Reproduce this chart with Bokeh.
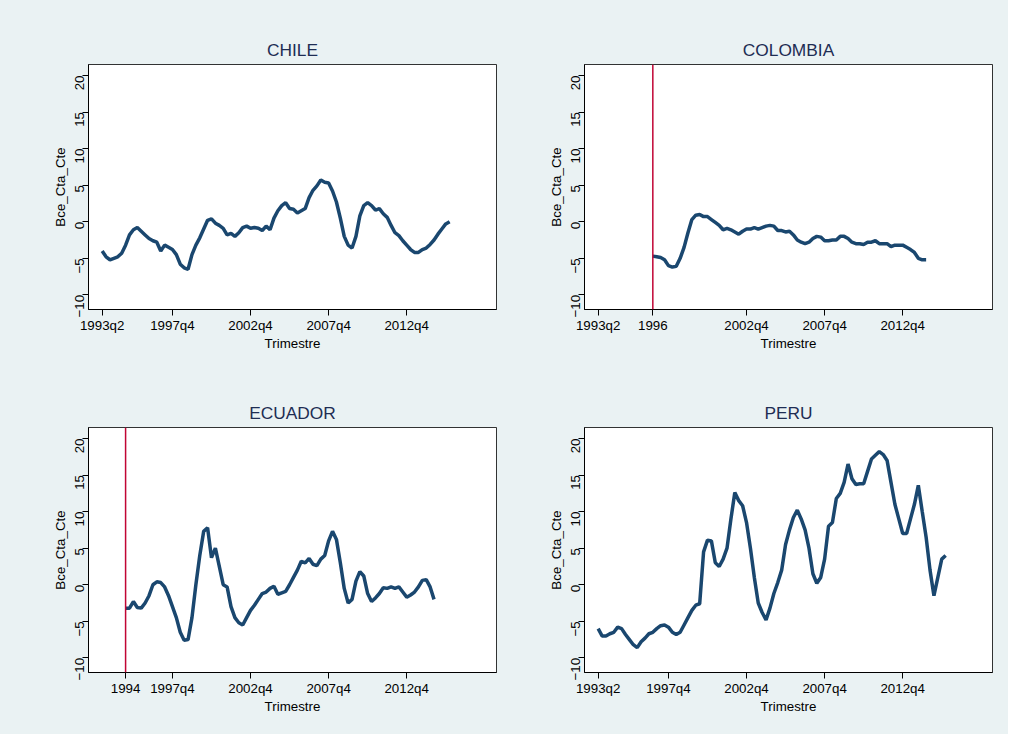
import math
import numpy as np
from bokeh.plotting import figure
from bokeh.layouts import gridplot
from bokeh.models import FixedTicker, Span, Range1d
from bokeh.embed import file_html
from bokeh.resources import INLINE

# Stata quarterly index: 1960q1 = 0
chile_start = 133
chile = [-4, -4.8, -5.2, -5.0, -4.8, -4.3, -3.2, -1.8, -1.1, -0.8, -1.3, -1.8, -2.3, -2.6, -2.8, -4.0,
         -3.2, -3.5, -3.8, -4.5, -5.8, -6.3, -6.5, -4.5, -3.2, -2.2, -1.0, 0.2, 0.4, -0.2, -0.5, -0.9,
         -1.8, -1.6, -2.0, -1.5, -0.8, -0.6, -0.9, -0.8, -0.9, -1.2, -0.6, -1.1, 0.5, 1.5, 2.2, 2.6,
         1.8, 1.7, 1.2, 1.5, 1.8, 3.3, 4.3, 4.9, 5.7, 5.4, 5.3, 4.2, 2.7, 0.5, -2.0, -3.2, -3.6, -2.0,
         0.8, 2.2, 2.6, 2.2, 1.6, 1.8, 1.1, 0.6, -0.5, -1.5, -1.9, -2.6, -3.2, -3.8, -4.2, -4.2, -3.8,
         -3.6, -3.1, -2.5, -1.7, -1.0, -0.3, 0.0]
colombia_start = 147
colombia = [-4.7, -4.8, -4.9, -5.2, -6.0, -6.2, -6.1, -5.0, -3.5, -1.5, 0.3, 0.9, 1.0, 0.7, 0.7, 0.3,
            -0.1, -0.5, -1.1, -0.9, -1.1, -1.4, -1.7, -1.3, -1.0, -1.0, -0.8, -1.0, -0.8, -0.6, -0.5,
            -0.6, -1.2, -1.2, -1.4, -1.3, -1.8, -2.5, -2.8, -3.0, -2.8, -2.3, -2.0, -2.1, -2.6, -2.6,
            -2.5, -2.5, -2.0, -2.0, -2.3, -2.8, -3.0, -3.0, -3.1, -2.8, -2.8, -2.6, -3.0, -3.0, -3.0,
            -3.4, -3.2, -3.2, -3.2, -3.5, -3.8, -4.2, -5.0, -5.2, -5.2]
ecuador_start = 139
ecuador = [-3.2, -3.2, -2.3, -3.1, -3.2, -2.5, -1.5, 0.0, 0.4, 0.3, -0.3, -1.5, -3.0, -4.5, -6.5, -7.6,
           -7.5, -4.5, 0.0, 4.0, 7.3, 7.8, 3.7, 5.0, 2.5, 0.0, -0.3, -3.0, -4.5, -5.2, -5.5, -4.5, -3.5,
           -2.8, -2.0, -1.2, -1.0, -0.5, -0.2, -1.3, -1.1, -0.9, 0.0, 1.0, 2.0, 3.2, 3.0, 3.6, 2.8, 2.6,
           3.5, 4.0, 6.0, 7.3, 6.2, 3.0, -0.5, -2.5, -2.0, 0.5, 1.8, 1.2, -1.2, -2.3, -1.8, -1.2, -0.4,
           -0.5, -0.3, -0.5, -0.3, -1.0, -1.7, -1.4, -1.0, -0.3, 0.6, 0.7, -0.3, -2.0]
peru_start = 133
peru = [-6, -7, -7, -6.7, -6.5, -5.8, -6, -6.8, -7.5, -8.2, -8.6, -7.8, -7.3, -6.7, -6.5, -6, -5.6,
        -5.5, -5.8, -6.5, -6.8, -6.5, -5.5, -4.5, -3.5, -2.8, -2.6, 4.5, 6.1, 6.0, 3, 2.5, 3.5, 5, 9,
        12.6, 11.5, 10.8, 8.5, 5, 1, -2.5, -3.8, -4.8, -3.2, -1.2, 0.3, 2, 5.5, 7.5, 9.2, 10.2, 9, 7.5,
        5, 1.5, 0.2, 1, 3.5, 8, 8.5, 11.8, 12.5, 14, 16.5, 14.5, 13.7, 13.8, 13.8, 15.5, 17.2, 17.7,
        18.2, 17.8, 17, 14, 11, 9, 7, 7, 9, 11, 13.6, 10, 6.5, 2, -1.5, 1, 3.5, 4]

y_ticks = [-10, -5, 0, 5, 10, 15, 20]
std_ticks = [133, 151, 171, 191, 211]
std_labels = ["1993q2", "1997q4", "2002q4", "2007q4", "2012q4"]

BG = "#EAF2F3"
LINE = "#1A476F"
TXT = "#1E2D53"


def panel(name, start, vals, ticks, labels, vline=None, top=True, left=True):
    bl = 88 if left else 80
    p = figure(width=504, height=367, output_backend="svg", toolbar_location=None,
               x_range=Range1d(129.5, 234), y_range=Range1d(-12, 21.5),
               min_border_left=bl, min_border_right=504 - bl - 408,
               min_border_top=64 if top else 60, min_border_bottom=58 if top else 62)
    p.border_fill_color = BG
    p.background_fill_color = "white"
    p.outline_line_color = "black"
    p.outline_line_width = 0.8
    p.grid.visible = False
    p.title.text = name
    p.title.align = "center"
    p.title.text_font = "Liberation Sans"
    p.title.text_font_style = "normal"
    p.title.text_font_size = "13pt"
    p.title.text_color = TXT
    p.title.offset = 4
    if vline is not None:
        p.add_layout(Span(location=vline, dimension="height", line_color="#C10534", line_width=1.5))
    x = start + np.arange(len(vals))
    p.line(x, vals, line_color=LINE, line_width=3.5)
    p.xaxis.ticker = FixedTicker(ticks=ticks)
    p.xaxis.major_label_overrides = {t: l for t, l in zip(ticks, labels)}
    p.yaxis.ticker = FixedTicker(ticks=y_ticks)
    p.yaxis.major_label_orientation = math.pi / 2
    p.xaxis.axis_label = "Trimestre"
    p.yaxis.axis_label = "Bce_Cta_Cte"
    for ax in (p.xaxis, p.yaxis):
        ax.minor_tick_line_color = None
        ax.major_tick_out = 6
        ax.major_tick_in = 0
        ax.axis_line_color = "black"
        ax.major_label_text_font = "Liberation Sans"
        ax.major_label_text_font_size = "10pt"
        ax.major_label_text_color = "black"
        ax.axis_label_text_font = "Liberation Sans"
        ax.axis_label_text_font_style = "normal"
        ax.axis_label_text_font_size = "10pt"
        ax.axis_label_text_color = "black"
        ax.axis_label_standoff = 0
    p.xaxis.major_label_standoff = 2
    p.yaxis.major_label_standoff = 3
    return p


p1 = panel("CHILE", chile_start, chile, std_ticks, std_labels)
p2 = panel("COLOMBIA", colombia_start, colombia, [133, 147, 171, 191, 211],
           ["1993q2", "1996", "2002q4", "2007q4", "2012q4"], vline=147, left=False)
p3 = panel("ECUADOR", ecuador_start, ecuador, [139, 151, 171, 191, 211],
           ["1994", "1997q4", "2002q4", "2007q4", "2012q4"], vline=139, top=False)
p4 = panel("PERU", peru_start, peru, std_ticks, std_labels, top=False, left=False)

grid = gridplot([[p1, p2], [p3, p4]], toolbar_location=None)
grid.styles = {"background-color": BG}
open("out.html", "w").write(file_html(grid, INLINE))
